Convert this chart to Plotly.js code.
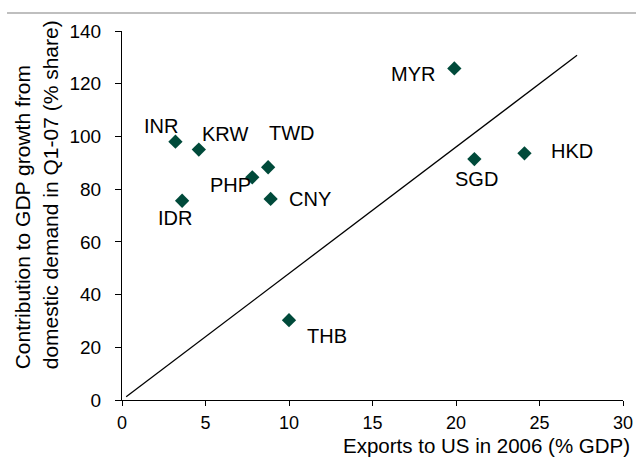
<!DOCTYPE html>
<html>
<head>
<meta charset="utf-8">
<script src="https://cdn.plot.ly/plotly-3.0.1.min.js"></script>
<style>html,body{margin:0;padding:0;background:#fff;}#chart{width:636px;height:457px;}</style>
</head>
<body>
<div id="chart"></div>
<script>
// ---- data ----
const codes = ['INR', 'KRW', 'TWD', 'PHP', 'CNY', 'IDR', 'MYR', 'SGD', 'HKD', 'THB'];
const exportsToUS = [3.2, 4.6, 8.75, 7.8, 8.9, 3.6, 19.9, 21.1, 24.1, 10.0];
const domesticShare = [98, 95, 88.3, 84.5, 76.3, 75.6, 125.8, 91.4, 93.6, 30.3];
const refLineX = [0.25, 27.25];
const refLineY = [1.2, 130.8];
const xTickVals = [0, 5, 10, 15, 20, 25, 30];
const yTickVals = [0, 20, 40, 60, 80, 100, 120, 140];
const xTitle = 'Exports to US in 2006 (% GDP)';
const yTitleLines = ['Contribution to GDP growth from', 'domestic demand in Q1-07 (% share)'];

// ---- styles (pixel label offsets) ----
const labelShift = [[-14, 16], [26, 16], [24, 34], [-22, -8], [39, 0], [-7, -17], [-41, -6], [2, -20], [48, 2], [38, -16]];
const FONT = 'Arial, "Liberation Sans", sans-serif';

const traces = [
  {
    x: refLineX, y: refLineY, mode: 'lines', type: 'scatter',
    line: {color: '#000000', width: 1.3}, hoverinfo: 'skip', showlegend: false
  },
  {
    x: exportsToUS, y: domesticShare, mode: 'markers', type: 'scatter',
    marker: {symbol: 'diamond', size: 11, color: '#004A3A'}, showlegend: false
  }
];

const annotations = codes.map((c, i) => ({
  x: exportsToUS[i], y: domesticShare[i], xref: 'x', yref: 'y',
  text: c, showarrow: false, xanchor: 'center', yanchor: 'middle',
  xshift: labelShift[i][0], yshift: labelShift[i][1],
  font: {family: FONT, size: 20, color: '#000'}
}));
annotations.push({
  xref: 'paper', yref: 'paper', x: 1.018, y: -0.124, xanchor: 'right', yanchor: 'middle',
  text: xTitle, showarrow: false, font: {family: FONT, size: 20.5, color: '#000'}
});
annotations.push({
  xref: 'paper', yref: 'paper', x: -0.17, y: 0.557, xanchor: 'center', yanchor: 'middle',
  text: yTitleLines.join('<br>'), textangle: -90, align: 'left', showarrow: false,
  font: {family: FONT, size: 21, color: '#000'}
});

const layout = {
  width: 636, height: 457,
  margin: {l: 122, r: 13, t: 31, b: 57},
  paper_bgcolor: '#ffffff', plot_bgcolor: '#ffffff',
  font: {family: FONT, size: 19, color: '#000'},
  xaxis: {
    range: [0, 30], tickvals: xTickVals, ticks: 'outside', ticklen: 5, tickcolor: '#000',
    showline: true, linecolor: '#000', linewidth: 1, showgrid: false, zeroline: false,
    tickfont: {family: FONT, size: 18}, ticklabelstandoff: 1
  },
  yaxis: {
    range: [0, 140], tickvals: yTickVals, ticks: 'outside', ticklen: 6, tickcolor: '#000',
    showline: true, linecolor: '#000', linewidth: 1, showgrid: false, zeroline: false,
    tickfont: {family: FONT, size: 19}, ticklabelstandoff: 10
  },
  shapes: [{
    type: 'line', xref: 'paper', yref: 'paper', x0: -0.2295, x1: 1.026, y0: 1.0488, y1: 1.0488,
    line: {color: '#BFBFBF', width: 2}
  }],
  annotations: annotations,
  showlegend: false
};

Plotly.newPlot('chart', traces, layout, {staticPlot: true, displayModeBar: false});
</script>
</body>
</html>
